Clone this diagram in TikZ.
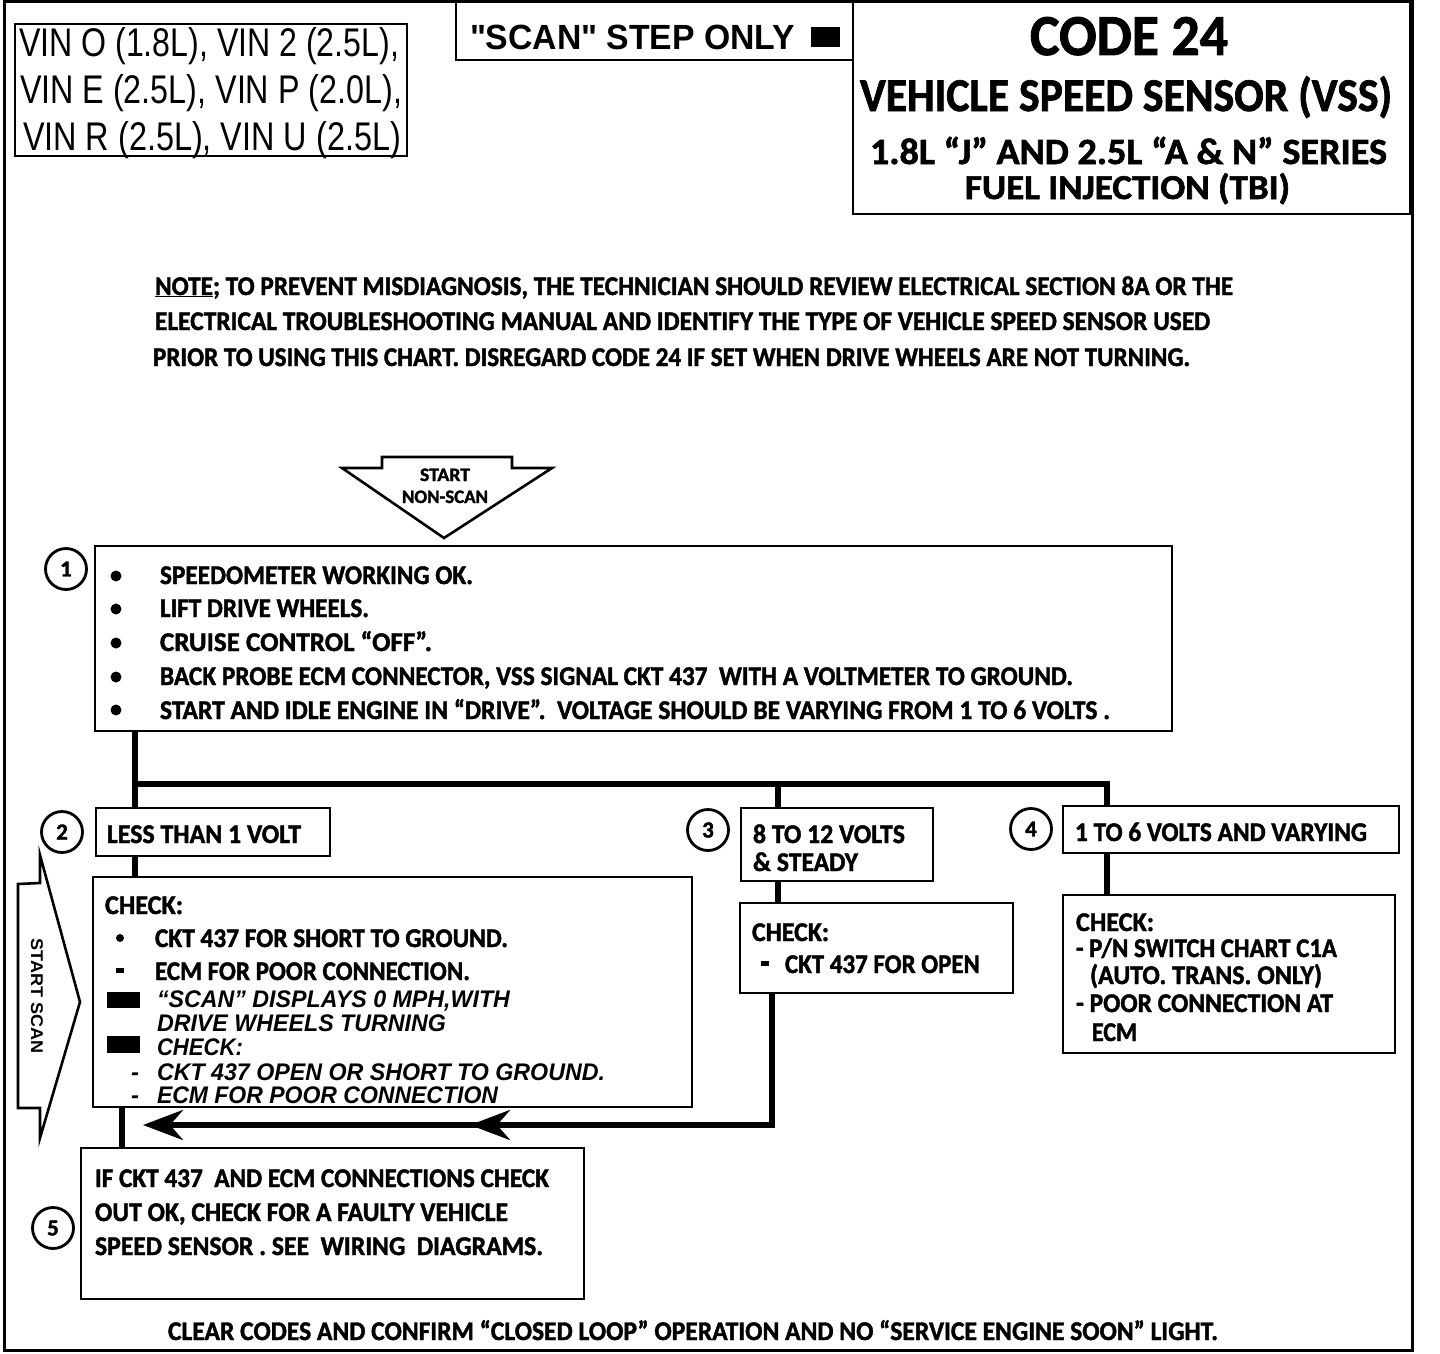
\documentclass[tikz,border=0pt]{standalone}
\usepackage{fontspec}
\setmainfont{Carlito}[BoldFeatures={FakeBold=1.6}]
\newfontfamily\helv{Liberation Sans}
\usetikzlibrary{arrows.meta}
\newcommand\hw[2]{\resizebox{#1pt}{\height}{#2}}
\tikzset{
  frame/.style={draw, line width=2.6pt},
  box/.style={draw, line width=2.6pt, rectangle, inner sep=0pt, outer sep=0pt},
  tx/.style={inner sep=0pt, outer sep=0pt, anchor=base west, font=\fontsize{27}{30}\selectfont\bfseries},
  itx/.style={inner sep=0pt, outer sep=0pt, anchor=base west, font=\helv\fontsize{24}{28}\selectfont\bfseries\itshape},
  circ/.style={circle, draw, line width=2.8pt, minimum size=41pt, inner sep=0pt, font=\fontsize{23}{24}\selectfont\bfseries},
  conn/.style={line width=5.5pt},
  head/.style={-{Stealth[length=40pt, width=30pt, inset=13pt]}},
}
\newcommand\boxat[5]{\node[box, anchor=north west, minimum width=#4pt-#2pt, minimum height=#5pt-#3pt] (#1) at (#2,#3) {};}
\begin{document}
\begin{tikzpicture}[x=1pt,y=-1pt]
\useasboundingbox (0,0) rectangle (1440,1354);
\fill[white] (0,0) rectangle (1440,1354);
% outer frame
\draw[frame, line width=3pt] (4,1.5) rectangle (1412,1350);

% VIN box
\boxat{vin}{15}{24}{407}{156}
\node[tx, font=\helv\fontsize{40}{44}\selectfont] (vin1) at (19,57) {\hw{380}{VIN O (1.8L), VIN 2 (2.5L),}};
\node[tx, font=\helv\fontsize{40}{44}\selectfont] (vin2) at (20,103) {\hw{382}{VIN E (2.5L), VIN P (2.0L),}};
\node[tx, font=\helv\fontsize{40}{44}\selectfont] (vin3) at (23,150) {\hw{378}{VIN R (2.5L), VIN U (2.5L)}};

% scan step box
\boxat{scanbox}{456}{0}{853}{60}
\node[tx, font=\helv\fontsize{35}{40}\selectfont\bfseries] (scantx) at (470,50) {\hw{325}{"SCAN" STEP ONLY}};
\fill (811,27) rectangle (840,47);

% title box
\boxat{title}{853}{0}{1410}{214}
\node[tx, font=\fontsize{58}{62}\selectfont\bfseries] (t1) at (1030,55) {\hw{198}{CODE 24}};
\node[tx, font=\fontsize{47}{52}\selectfont\bfseries] (t2) at (860,111) {\hw{532}{VEHICLE SPEED SENSOR (VSS)}};
\node[tx, font=\fontsize{37}{40}\selectfont\bfseries] (t3) at (870,164) {\hw{517}{1.8L “J” AND 2.5L “A \& N” SERIES}};
\node[tx, font=\fontsize{35}{40}\selectfont\bfseries] (t4) at (965,199) {\hw{325}{FUEL INJECTION (TBI)}};

% note
\node[tx] (n1) at (155,295) {\hw{1078}{\underline{NOTE};\ TO PREVENT MISDIAGNOSIS, THE TECHNICIAN SHOULD REVIEW ELECTRICAL SECTION 8A OR THE}};
\node[tx] (n2) at (155,330) {\hw{1055}{ELECTRICAL TROUBLESHOOTING MANUAL AND IDENTIFY THE TYPE OF VEHICLE SPEED SENSOR USED}};
\node[tx] (n3) at (153,366) {\hw{1037}{PRIOR TO USING THIS CHART. DISREGARD CODE 24 IF SET WHEN DRIVE WHEELS ARE NOT TURNING.}};

% start non-scan arrow
\draw[line width=2.6pt, line join=miter] (382,457) -- (512,457) -- (512,468) -- (552,468) -- (444,538) -- (342,468) -- (382,468) -- cycle;
\node[font=\fontsize{19}{22}\selectfont\bfseries, inner sep=0pt, anchor=base] (ns1) at (445,481) {\hw{50}{START}};
\node[font=\fontsize{19}{22}\selectfont\bfseries, inner sep=0pt, anchor=base] (ns2) at (445,503) {\hw{86}{NON-SCAN}};

% step 1
\node[circ] (c1) at (66,569) {1};
\boxat{b1}{95}{546}{1172}{731}
\foreach \yy in {576,609,643,677,710} {\fill (116,\yy) circle (5.5);}
\node[tx] (s1a) at (160,584) {\hw{313}{SPEEDOMETER WORKING OK.}};
\node[tx] (s1b) at (160,617) {\hw{209}{LIFT DRIVE WHEELS.}};
\node[tx] (s1c) at (160,651) {\hw{272}{CRUISE CONTROL “OFF”.}};
\node[tx] (s1d) at (160,685) {\hw{913}{BACK PROBE ECM CONNECTOR, VSS SIGNAL CKT 437\ \ WITH A VOLTMETER TO GROUND.}};
\node[tx] (s1e) at (160,719) {\hw{950}{START AND IDLE ENGINE IN “DRIVE”.\ \ VOLTAGE SHOULD BE VARYING FROM 1 TO 6 VOLTS .}};

% step 2
\node[circ] (c2) at (62,832) {2};
\boxat{b2}{96}{808}{330}{856}
\node[tx] (s2) at (107,843) {\hw{194}{LESS THAN 1 VOLT}};
\boxat{b2a}{93}{877}{692}{1107}
\node[tx] (s2a) at (105,914) {\hw{78}{CHECK:}};
\fill (120,938) circle (4);
\node[tx] (s2b) at (155,947) {\hw{353}{CKT 437 FOR SHORT TO GROUND.}};
\fill (116,968) rectangle (124,973);
\node[tx] (s2c) at (155,980) {\hw{315}{ECM FOR POOR CONNECTION.}};
\fill (107,992) rectangle (140,1008);
\node[itx] (s2d) at (157,1007) {\hw{353}{“SCAN” DISPLAYS 0 MPH,WITH}};
\node[itx] (s2e) at (157,1031) {\hw{289}{DRIVE WHEELS TURNING}};
\fill (107,1036) rectangle (140,1053);
\node[itx] (s2f) at (157,1055) {\hw{86}{CHECK:}};
\node[itx] (s2g0) at (131,1080) {-};
\node[itx] (s2g) at (157,1080) {\hw{448}{CKT 437 OPEN OR SHORT TO GROUND.}};
\node[itx] (s2h0) at (131,1103) {-};
\node[itx] (s2h) at (157,1103) {\hw{341}{ECM FOR POOR CONNECTION}};

% start scan arrow
\draw[line width=2.6pt, line join=miter] (18,884) -- (40,883) -- (40,855) -- (80,1002) -- (40,1138) -- (40,1108) -- (18,1108) -- cycle;
\node[rotate=-90, font=\helv\fontsize{17}{20}\selectfont\bfseries, inner sep=0pt] (ss) at (37,996) {\hw{115}{START SCAN}};

% step 3
\node[circ] (c3) at (708,830) {3};
\boxat{b3}{741}{808}{933}{881}
\node[tx] (s3a) at (753,843) {\hw{152}{8 TO 12 VOLTS}};
\node[tx] (s3b) at (753,871) {\hw{105}{\& STEADY}};
\boxat{b3a}{740}{903}{1013}{993}
\node[tx] (s3c) at (752,941) {\hw{77}{CHECK:}};
\fill (761,961) rectangle (769,966);
\node[tx] (s3d) at (785,973) {\hw{195}{CKT 437 FOR OPEN}};

% step 4
\node[circ] (c4) at (1031,829) {4};
\boxat{b4}{1063}{806}{1399}{853}
\node[tx] (s4) at (1075,841) {\hw{292}{1 TO 6 VOLTS AND VARYING}};
\boxat{b4a}{1063}{895}{1395}{1053}
\node[tx] (s4a) at (1076,931) {\hw{78}{CHECK:}};
\node[tx] (s4b) at (1076,957) {\hw{261}{- P/N SWITCH CHART C1A}};
\node[tx] (s4c) at (1090,984) {\hw{232}{(AUTO. TRANS. ONLY)}};
\node[tx] (s4d) at (1076,1012) {\hw{257}{- POOR CONNECTION AT}};
\node[tx] (s4e) at (1092,1041) {\hw{45}{ECM}};

% step 5
\node[circ] (c5) at (53,1228) {5};
\boxat{b5}{81}{1148}{584}{1299}
\node[tx] (s5a) at (95,1187) {\hw{454}{IF CKT 437\ \ AND ECM CONNECTIONS CHECK}};
\node[tx] (s5b) at (95,1221) {\hw{413}{OUT OK, CHECK FOR A FAULTY VEHICLE}};
\node[tx] (s5c) at (95,1255) {\hw{448}{SPEED SENSOR . SEE\ \ WIRING\ \ DIAGRAMS.}};

% bottom line
\node[tx] (bot) at (168,1340) {\hw{1050}{CLEAR CODES AND CONFIRM “CLOSED LOOP” OPERATION AND NO “SERVICE ENGINE SOON” LIGHT.}};

% connectors
\coordinate (busL) at (135,784);
\coordinate (bus3) at (778,784);
\coordinate (busR) at (1107,784);
\coordinate (d2) at (122,1120);
\coordinate (ret) at (772,1125);
\coordinate (arrM) at (470,1125);
\coordinate (arrL) at (143,1125);
\draw[conn] (b1.south -| busL) -- (busL) -- (busR) -- (b4.north -| busR);
\draw[conn] (busL) -- (b2.north -| busL);
\draw[conn] (bus3) -- (b3.north -| bus3);
\draw[conn] (b2.south -| busL) -- (b2a.north -| busL);
\draw[conn] (b3.south -| bus3) -- (b3a.north -| bus3);
\draw[conn] (b4.south -| busR) -- (b4a.north -| busR);
\draw[conn] (b2a.south -| d2) -- (b5.north -| d2);
\draw[conn, line join=miter] (b3a.south -| ret) -- (ret) -- (arrM);
\draw[conn, head] (ret) -- (arrM);
\draw[conn, head] (arrM) -- (arrL);
\end{tikzpicture}
\end{document}
